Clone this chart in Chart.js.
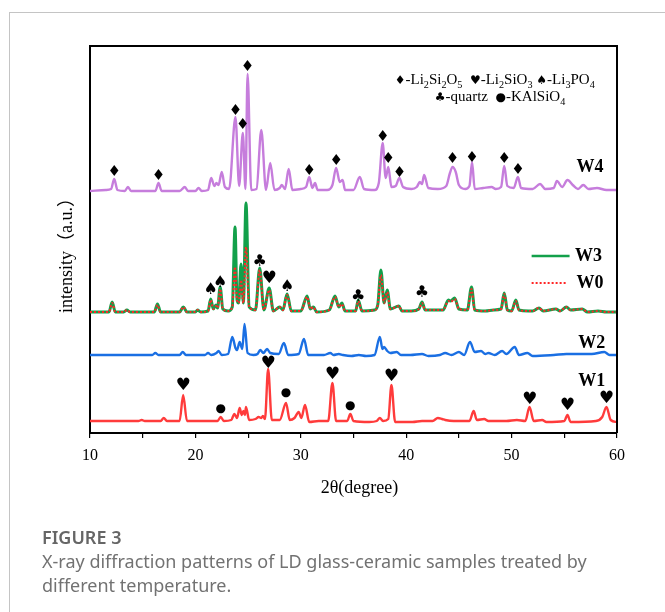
<!DOCTYPE html>
<html>
<head>
<meta charset="utf-8">
<script src="https://cdn.jsdelivr.net/npm/chart.js@4.4.0/dist/chart.umd.min.js"></script>
<style>
  html, body { margin: 0; padding: 0; background: #fff; }
  #wrap { position: relative; width: 665px; height: 612px; overflow: hidden; }
  #card { position: absolute; left: 9px; top: 12px; width: 720px; height: 720px;
          border-left: 1px solid #c4c4c4; border-top: 1px solid #c4c4c4; }
  #chart { position: absolute; left: 0; top: 0; }
  .cap { position: absolute; left: 42px; font-family: "Noto Sans", sans-serif; color: #727272; font-size: 18px; }
  #capTitle { top: 525px; font-weight: 600; color: #666; }
  #capText { top: 549px; line-height: 24px; white-space: nowrap; }
</style>
</head>
<body>
<div id="wrap">
  <div id="card"></div>
  <canvas id="chart" width="665" height="612"></canvas>
  <div class="cap" id="capTitle">FIGURE 3</div>
  <div class="cap" id="capText">X-ray diffraction patterns of LD glass-ceramic samples treated by<br>different temperature.</div>
</div>
<script>
// 2θ (degree) vs intensity (a.u., offset traces)
var w4 = [[10,242],[11.5,243],[12.0,244],[12.3,254],[12.6,243],[13.3,242],[13.6,246],[13.9,242],[15.0,242],
  [16.2,242],[16.5,250],[16.8,242],[18.5,242],[19.0,246],[19.3,242],[20.0,242],[20.3,245],[20.6,242],
  [21.2,243],[21.5,255],[21.8,247],[22.0,250],[22.2,248],[22.5,261],[22.8,246],[23.2,244],[23.8,316],
  [24.15,247],[24.5,300],[24.75,244],[24.95,359],[25.3,243],[25.8,244],[26.25,303],[26.7,243],[27.1,270],
  [27.5,243],[28.0,245],[28.2,248],[28.5,244],[28.85,264],[29.2,243],[30.0,244],[30.5,246],[30.8,256],
  [31.1,245],[31.35,250],[31.6,243],[32.5,243],[33.0,248],[33.35,265],[33.7,251],[33.97,253],[34.2,243],
  [35.0,243],[35.6,256],[36.0,244],[37.0,243],[37.4,250],[37.77,290],[38.05,255],[38.3,266],[38.6,246],
  [39.0,247],[39.35,255],[39.7,246],[40.5,244],[41.0,246],[41.3,251],[41.5,249],[41.7,258],[42.1,245],
  [43.0,244],[43.8,247],[44.15,260],[44.4,266],[44.7,261],[45.0,248],[45.6,244],[46.0,247],[46.25,271],
  [46.5,244],[47.3,245],[48.1,246],[48.5,244],[49.0,246],[49.3,267],[49.6,247],[50.2,245],[50.6,256],
  [50.9,245],[52.0,244],[52.7,249],[53.2,244],[54.0,245],[54.3,252],[54.8,246],[55.3,253],[55.8,248],
  [56.3,244],[56.8,248],[57.3,244],[58.1,245],[59.0,243],[60.0,243]];

var w3 = [[10,121],[11.8,121],[12.1,131],[12.4,121],[13.2,121],[13.5,123],[13.8,121],[16.1,121],[16.4,129],
  [16.7,121],[18.5,121],[18.85,126],[19.2,121],[20.0,121],[20.2,123],[20.5,121],[21.2,122],[21.45,134],
  [21.7,124],[21.95,128],[22.1,125],[22.35,146],[22.6,124],[23.1,122],[23.5,126],[23.76,206],[23.95,133],
  [24.1,130],[24.33,169],[24.55,130],[24.8,230],[25.1,126],[25.7,123],[26.1,165],[26.5,123],[27.0,145],
  [27.4,122],[28.0,126],[28.3,123],[28.7,139],[29.1,122],[30.0,122],[30.6,137],[30.9,124],[31.2,126],
  [31.5,121],[32.7,123],[33.25,137],[33.6,126],[33.9,130],[34.2,122],[35.2,122],[35.45,133],[35.8,122],
  [37.0,123],[37.3,128],[37.6,163],[37.9,130],[38.2,143],[38.5,124],[39.3,127],[39.6,122],[40.5,122],
  [41.2,124],[41.5,131],[41.8,123],[43.5,123],[44.0,133],[44.2,132],[44.6,135],[45.0,124],[45.8,123],
  [46.2,146],[46.5,123],[47.5,122],[48.3,123],[49.0,124],[49.3,140],[49.6,123],[50.0,122],[50.4,133],
  [50.7,123],[51.6,122],[52.0,122],[52.6,125],[53.0,122],[54.2,124],[54.6,122],[55.2,126],[55.6,123],
  [56.7,124],[57.2,121],[58.2,122],[59.0,121],[60.0,121]];

var w0 = [[10,121],[11.8,121],[12.1,130],[12.4,121],[13.2,121],[13.5,123],[13.8,121],[16.1,121],[16.4,128],
  [16.7,121],[18.5,121],[18.85,126],[19.2,121],[20.0,121],[20.2,123],[20.5,121],[21.2,122],[21.45,133],
  [21.7,124],[21.95,127],[22.1,125],[22.35,144],[22.6,124],[23.1,122],[23.5,126],[23.76,166],[23.95,133],
  [24.1,130],[24.33,153],[24.55,130],[24.8,186],[25.1,126],[25.7,123],[26.1,163],[26.5,123],[27.0,143],
  [27.4,122],[28.0,126],[28.3,123],[28.7,138],[29.1,122],[30.0,122],[30.6,136],[30.9,124],[31.2,126],
  [31.5,121],[32.7,123],[33.25,136],[33.6,126],[33.9,129],[34.2,122],[35.2,122],[35.45,132],[35.8,122],
  [37.0,123],[37.3,128],[37.6,158],[37.9,130],[38.2,141],[38.5,124],[39.3,127],[39.6,122],[40.5,122],
  [41.2,124],[41.5,130],[41.8,123],[43.5,123],[44.0,132],[44.2,131],[44.6,134],[45.0,124],[45.8,123],
  [46.2,144],[46.5,123],[47.5,122],[48.3,123],[49.0,124],[49.3,139],[49.6,123],[50.0,122],[50.4,132],
  [50.7,123],[51.6,122],[52.0,122],[52.6,125],[53.0,122],[54.2,124],[54.6,122],[55.2,126],[55.6,123],
  [56.7,124],[57.2,121],[58.2,122],[59.0,121],[60.0,121]];

var w2 = [[10,78],[15.9,78],[16.2,80],[16.5,78],[18.5,78],[18.8,81],[19.1,78],[20.9,78],[21.2,80],[21.5,78],
  [22.0,80],[22.2,82],[22.5,78],[23.1,79],[23.5,96],[23.8,85],[23.95,83],[24.2,91],[24.45,84],[24.66,109],
  [24.95,80],[25.5,78],[25.9,79],[26.15,83],[26.45,80],[26.8,84],[27.1,80],[27.9,79],[28.4,90],[28.8,78],
  [29.8,79],[30.3,94],[30.7,78],[31.5,78],[32.2,78],[32.8,80],[33.1,78],[33.6,79],[34.0,78],[34.8,77],
  [35.5,78],[36.2,77],[37.0,78],[37.5,96],[37.75,84],[37.9,86],[38.2,82],[38.5,80],[39.1,81],[39.5,78],
  [40.4,78],[41.5,79],[42.1,77],[43.2,78],[43.7,80],[44.3,78],[45.0,81],[45.5,78],[46.05,91],[46.5,81],
  [47.1,82],[47.5,79],[47.8,80],[48.4,78],[49.1,82],[49.5,79],[50.3,86],[50.7,78],[51.5,80],[52.0,77],
  [54.0,78],[55.2,79],[56.6,79],[57.6,79],[58.8,81],[59.3,78],[60.0,78]];

var w1 = [[10,12],[14.6,12],[14.9,13],[15.2,12],[16.7,12],[17.0,15],[17.3,12],[18.5,12],[18.84,38],[19.2,12],
  [21.0,12],[22.1,12],[22.4,16],[22.7,12],[23.4,13],[23.7,19],[23.95,15],[24.2,25],[24.4,18],[24.56,22],
  [24.7,18],[24.8,26],[25.1,13],[25.7,14],[26.0,16],[26.25,15],[26.4,17],[26.6,14],[26.9,64],[27.25,13],
  [28.0,13],[28.6,30],[28.95,13],[29.4,15],[29.8,21],[30.05,15],[30.4,28],[30.8,11],[31.7,12],[32.6,12],
  [33.0,50],[33.35,12],[34.4,12],[34.7,19],[35.0,12],[36.5,11],[37.2,12],[37.5,15],[37.8,12],[38.3,14],
  [38.6,48],[38.95,11],[40.6,11],[41.5,12],[42.5,12],[43.0,15],[43.4,14],[43.7,13],[44.5,12],[45.2,12],
  [46.0,12],[46.4,22],[46.7,13],[47.4,14],[47.8,12],[49.5,12],[50.5,13],[51.3,12],[51.7,26],[52.1,12],
  [52.9,13],[53.3,11],[55.0,12],[55.3,18],[55.6,11],[58.0,12],[58.6,16],[59.0,26],[59.4,13],[60.0,11]];

// phase markers [2θ, height]
var diamonds = [[12.3,261],[16.5,257],[23.8,322],[24.5,308],[24.95,366],[30.8,262],[33.35,272],[37.77,296],
  [38.3,274],[39.35,260],[44.4,274],[46.25,275],[49.3,274],[50.6,263]];
var hearts = [[27.0,154],[18.84,47],[26.9,69],[33.0,58],[38.6,56],[51.7,33],[55.3,27],[59.0,34]];
var spades = [[21.45,143],[22.35,150],[28.7,146]];
var clubs = [[26.1,171],[35.45,136],[41.5,140]];
var dots = [[22.4,24],[28.6,40],[34.7,27]];

var xTicks = [10, 20, 30, 40, 50, 60];
var seriesNames = ['W0', 'W3', 'W4', 'W2', 'W1'];
var seriesColors = ['#ff2626', '#12a04a', '#c67ddc', '#1a6fe3', '#ff3b3b'];
var traceLabels = [['W4', 57.45, 266], ['W3', 57.3, 177], ['W0', 57.45, 150], ['W2', 57.6, 90], ['W1', 57.6, 52]];

function toXY(arr) { return arr.map(function (p) { return { x: p[0], y: p[1] }; }); }

var SERIF = '"Liberation Serif", "Noto Sans CJK SC", serif';
var SYM = '"DejaVu Sans", sans-serif';

function drawRich(ctx, parts, cx, cy, size) {
  function fontFor(k) {
    if (k === 's') return (size * 0.68) + 'px ' + SERIF;
    if (k === 'g') return (size * 0.8) + 'px ' + SYM;
    return size + 'px ' + SERIF;
  }
  var w = 0;
  parts.forEach(function (p) { ctx.font = fontFor(p[1]); w += ctx.measureText(p[0]).width; });
  var x = cx - w / 2;
  ctx.textAlign = 'left';
  ctx.textBaseline = 'alphabetic';
  parts.forEach(function (p) {
    ctx.font = fontFor(p[1]);
    var dy = p[1] === 's' ? size * 0.28 : 0;
    ctx.fillText(p[0], x, cy + size * 0.35 + dy);
    x += ctx.measureText(p[0]).width;
  });
}

var overlay = {
  id: 'overlay',
  afterDraw: function (chart) {
    var ctx = chart.ctx, a = chart.chartArea;
    var xs = chart.scales.x, ys = chart.scales.y;
    ctx.save();
    // frame top/right
    ctx.strokeStyle = '#000';
    ctx.lineWidth = 2;
    ctx.beginPath();
    ctx.moveTo(a.left, a.top); ctx.lineTo(a.right, a.top); ctx.lineTo(a.right, a.bottom);
    ctx.stroke();

    ctx.fillStyle = '#000';
    ctx.textAlign = 'center';
    ctx.textBaseline = 'middle';
    function glyphs(list, ch, size) {
      ctx.font = size + 'px ' + SYM;
      list.forEach(function (p) { ctx.fillText(ch, xs.getPixelForValue(p[0]), ys.getPixelForValue(p[1])); });
    }
    glyphs(diamonds, '\u2666', 15);
    glyphs(hearts, '\u2665', 17);
    glyphs(spades, '\u2660', 16);
    glyphs(clubs, '\u2663', 16);
    glyphs(dots, '\u25CF', 12);

    // trace labels
    ctx.font = 'bold 18px ' + SERIF;
    traceLabels.forEach(function (t) {
      ctx.fillText(t[0], xs.getPixelForValue(t[1]), ys.getPixelForValue(t[2]));
    });

    // W3 / W0 legend lines
    var lx0 = xs.getPixelForValue(51.9), lx1 = xs.getPixelForValue(55.5);
    ctx.strokeStyle = seriesColors[1];
    ctx.lineWidth = 2.5;
    ctx.beginPath();
    ctx.moveTo(lx0, ys.getPixelForValue(177)); ctx.lineTo(lx1, ys.getPixelForValue(177));
    ctx.stroke();
    ctx.strokeStyle = seriesColors[0];
    ctx.lineWidth = 2;
    ctx.setLineDash([2, 2]);
    ctx.beginPath();
    ctx.moveTo(lx0, ys.getPixelForValue(150)); ctx.lineTo(xs.getPixelForValue(55.2), ys.getPixelForValue(150));
    ctx.stroke();
    ctx.setLineDash([]);

    // phase legend
    ctx.fillStyle = '#000';
    drawRich(ctx, [['\u2666', 'g'], ['-Li', 'n'], ['2', 's'], ['Si', 'n'], ['2', 's'], ['O', 'n'], ['5', 's'], ['  ', 'n'],
      ['\u2665', 'g'], ['-Li', 'n'], ['2', 's'], ['SiO', 'n'], ['3', 's'], [' ', 'n'],
      ['\u2660', 'g'], ['-Li', 'n'], ['3', 's'], ['PO', 'n'], ['4', 's']],
      xs.getPixelForValue(48.4), ys.getPixelForValue(354), 15);
    drawRich(ctx, [['\u2663', 'g'], ['-quartz', 'n'], ['  ', 'n'], ['\u25CF', 'g'], ['-KAlSiO', 'n'], ['4', 's']],
      xs.getPixelForValue(48.9), ys.getPixelForValue(337), 15);

    // axis titles
    ctx.textAlign = 'center';
    ctx.textBaseline = 'middle';
    ctx.font = '18px ' + SERIF;
    ctx.fillText('2\u03B8(degree)', (a.left + a.right) / 2 + 6, 488);
    ctx.translate(67, 251);
    ctx.rotate(-Math.PI / 2);
    ctx.font = '18px ' + SERIF;
    ctx.fillText('intensity\uFF08a.u.\uFF09', 0, 0);
    ctx.restore();
  }
};

var series = [w0, w3, w4, w2, w1];
var datasets = series.map(function (s, i) {
  return {
    label: seriesNames[i],
    data: toXY(s),
    borderColor: seriesColors[i],
    borderWidth: i === 1 ? 3 : (i === 0 ? 2 : 2.4),
    borderDash: i === 0 ? [2, 2] : [],
    pointRadius: 0,
    fill: false,
    cubicInterpolationMode: 'monotone'
  };
});

new Chart(document.getElementById('chart').getContext('2d'), {
  type: 'line',
  data: { datasets: datasets },
  options: {
    responsive: false,
    animation: false,
    layout: { padding: { left: 0, top: 46, right: 48, bottom: 0 } },
    plugins: { legend: { display: false }, tooltip: { enabled: false } },
    scales: {
      x: {
        type: 'linear', min: 10, max: 60,
        ticks: {
          stepSize: 5, autoSkip: false, maxRotation: 0, padding: 8, color: '#000',
          font: { family: SERIF, size: 16 },
          callback: function (v) { return xTicks.indexOf(v) >= 0 ? String(v) : ''; }
        },
        grid: { display: true, drawOnChartArea: false, drawTicks: true, tickLength: 5, color: '#000', lineWidth: 1.2 },
        border: { display: true, color: '#000', width: 2 },
        afterFit: function (s) { s.height = 179; }
      },
      y: {
        min: 0, max: 387,
        ticks: { display: false },
        grid: { display: false },
        border: { display: true, color: '#000', width: 2 },
        afterFit: function (s) { s.width = 90; }
      }
    }
  },
  plugins: [overlay]
});
</script>
</body>
</html>
